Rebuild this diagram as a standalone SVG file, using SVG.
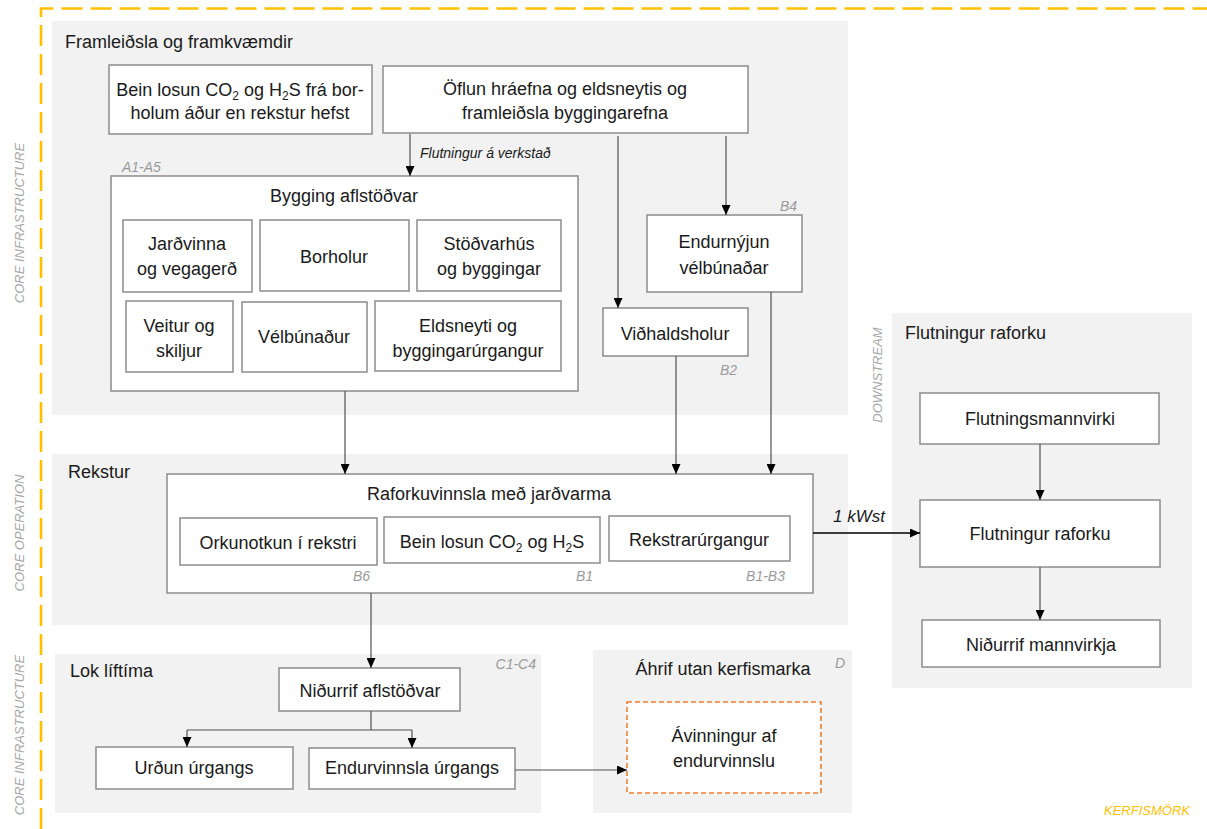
<svg xmlns="http://www.w3.org/2000/svg" width="1207" height="829" viewBox="0 0 1207 829">
<style>
.panel{fill:#F2F2F2;stroke:none}
.box{fill:#FFFFFF;stroke:#8C8C8C;stroke-width:1.5}
.dbox{fill:#FFFFFF;stroke:#ED7D31;stroke-width:1.6;stroke-dasharray:5 3}
.t{font-family:"Liberation Sans",Arial,sans-serif;font-size:18px;fill:#1A1A1A;text-anchor:middle}
.pt{font-family:"Liberation Sans",Arial,sans-serif;font-size:18px;fill:#1A1A1A}
.lab{font-family:"Liberation Sans",Arial,sans-serif;font-size:14px;font-style:italic;fill:#9A9A9A}
.side{font-family:"Liberation Sans",Arial,sans-serif;font-size:13px;font-style:italic;fill:#A6A6A6;text-anchor:middle}
.it{font-family:"Liberation Sans",Arial,sans-serif;font-style:italic;fill:#1A1A1A}
.c{fill:none;stroke:#505050;stroke-width:1.2}
.sub{font-size:12px}
</style>
<defs>
<marker id="ah" viewBox="0 0 10 9" refX="10" refY="4.5" markerWidth="10" markerHeight="9" markerUnits="userSpaceOnUse" orient="auto">
<path d="M0,0 L10,4.5 L0,9 Z" fill="#000000"/>
</marker>
</defs>

<g id="border">
<path d="M41,829 V8.5 H1207" fill="none" stroke="#FFC000" stroke-width="2.6" stroke-dasharray="21 8"/>
<text x="1190" y="815" font-family="Liberation Sans,Arial,sans-serif" font-size="13" font-style="italic" fill="#FFC000" text-anchor="end">KERFISMÖRK</text>
</g>

<g id="side-labels">
<text class="side" transform="translate(24,223) rotate(-90)">CORE INFRASTRUCTURE</text>
<text class="side" transform="translate(24,533) rotate(-90)">CORE OPERATION</text>
<text class="side" transform="translate(24,735) rotate(-90)">CORE INFRASTRUCTURE</text>
<text class="side" transform="translate(882,375) rotate(-90)">DOWNSTREAM</text>
</g>

<g id="panel-framleidsla">
<rect class="panel" x="52" y="21" width="796" height="394"/>
<text class="pt" x="65" y="48">Framleiðsla og framkvæmdir</text>
</g>
<g id="panel-rekstur">
<rect class="panel" x="52" y="454" width="796" height="171"/>
<text class="pt" x="68" y="478">Rekstur</text>
</g>
<g id="panel-flutningur">
<rect class="panel" x="892" y="313" width="300" height="375"/>
<text class="pt" x="905" y="339">Flutningur raforku</text>
</g>
<g id="panel-lok">
<rect class="panel" x="55" y="654" width="486" height="159"/>
<text class="pt" x="70" y="677">Lok líftíma</text>
<text class="lab" x="536" y="669" text-anchor="end">C1-C4</text>
</g>
<g id="panel-ahrif">
<rect class="panel" x="593" y="650" width="259" height="163"/>
<text class="t" x="723" y="675">Áhrif utan kerfismarka</text>
<text class="lab" x="845" y="668" text-anchor="end">D</text>
</g>

<g id="node-bein-losun-borholur">
<rect class="box" x="109" y="65" width="263" height="69"/>
<text class="t" x="240" y="96">Bein losun CO<tspan class="sub" dy="4">2</tspan><tspan dy="-4"> og H</tspan><tspan class="sub" dy="4">2</tspan><tspan dy="-4">S frá bor-</tspan></text>
<text class="t" x="240" y="119">holum áður en rekstur hefst</text>
</g>
<g id="node-oflun">
<rect class="box" x="383" y="66" width="365" height="67"/>
<text class="t" x="565" y="95">Öflun hráefna og eldsneytis og</text>
<text class="t" x="565" y="119">framleiðsla byggingarefna</text>
</g>

<g id="node-bygging">
<rect class="box" x="111" y="176" width="467" height="215"/>
<text class="t" x="344" y="202">Bygging aflstöðvar</text>
<text class="lab" x="122" y="172">A1-A5</text>
</g>
<g id="node-jardvinna">
<rect class="box" x="123" y="220" width="129" height="72"/>
<text class="t" x="187" y="250">Jarðvinna</text>
<text class="t" x="187" y="275">og vegagerð</text>
</g>
<g id="node-borholur">
<rect class="box" x="260" y="220" width="149" height="71"/>
<text class="t" x="334" y="263">Borholur</text>
</g>
<g id="node-stodvarhus">
<rect class="box" x="417" y="220" width="144" height="71"/>
<text class="t" x="489" y="250">Stöðvarhús</text>
<text class="t" x="489" y="275">og byggingar</text>
</g>
<g id="node-veitur">
<rect class="box" x="126" y="301" width="107" height="71"/>
<text class="t" x="179" y="332">Veitur og</text>
<text class="t" x="179" y="357">skiljur</text>
</g>
<g id="node-velbunadur">
<rect class="box" x="242" y="302" width="125" height="70"/>
<text class="t" x="304" y="343">Vélbúnaður</text>
</g>
<g id="node-eldsneyti">
<rect class="box" x="375" y="301" width="186" height="70"/>
<text class="t" x="468" y="332">Eldsneyti og</text>
<text class="t" x="468" y="357">byggingarúrgangur</text>
</g>

<g id="node-endurnyjun">
<rect class="box" x="647" y="215" width="155" height="77"/>
<text class="t" x="724" y="248">Endurnýjun</text>
<text class="t" x="724" y="274">vélbúnaðar</text>
<text class="lab" x="797" y="211" text-anchor="end">B4</text>
</g>
<g id="node-vidhaldsholur">
<rect class="box" x="603" y="308" width="145" height="48"/>
<text class="t" x="675" y="340">Viðhaldsholur</text>
<text class="lab" x="737" y="375" text-anchor="end">B2</text>
</g>

<g id="node-raforkuvinnsla">
<rect class="box" x="167" y="474" width="646" height="119"/>
<text class="t" x="489" y="500">Raforkuvinnsla með jarðvarma</text>
<text class="lab" x="370" y="581" text-anchor="end">B6</text>
<text class="lab" x="593" y="581" text-anchor="end">B1</text>
<text class="lab" x="785" y="581" text-anchor="end">B1-B3</text>
</g>
<g id="node-orkunotkun">
<rect class="box" x="180" y="518" width="197" height="47"/>
<text class="t" x="278" y="549">Orkunotkun í rekstri</text>
</g>
<g id="node-bein-losun">
<rect class="box" x="384" y="517" width="216" height="46"/>
<text class="t" x="492" y="548">Bein losun CO<tspan class="sub" dy="4">2</tspan><tspan dy="-4"> og H</tspan><tspan class="sub" dy="4">2</tspan><tspan dy="-4">S</tspan></text>
</g>
<g id="node-rekstrarurgangur">
<rect class="box" x="609" y="516" width="181" height="45"/>
<text class="t" x="699" y="546">Rekstrarúrgangur</text>
</g>

<g id="node-flutningsmannvirki">
<rect class="box" x="920" y="393" width="239" height="51"/>
<text class="t" x="1040" y="425">Flutningsmannvirki</text>
</g>
<g id="node-flutningur-raforku">
<rect class="box" x="920" y="500" width="240" height="67"/>
<text class="t" x="1040" y="540">Flutningur raforku</text>
</g>
<g id="node-nidurrif-mannvirkja">
<rect class="box" x="922" y="620" width="238" height="47"/>
<text class="t" x="1041" y="651">Niðurrif mannvirkja</text>
</g>

<g id="node-nidurrif-aflstodvar">
<rect class="box" x="279" y="668" width="181" height="43"/>
<text class="t" x="370" y="697">Niðurrif aflstöðvar</text>
</g>
<g id="node-urdun">
<rect class="box" x="96" y="747" width="197" height="42"/>
<text class="t" x="194" y="774">Urðun úrgangs</text>
</g>
<g id="node-endurvinnsla">
<rect class="box" x="309" y="748" width="206" height="41"/>
<text class="t" x="412" y="774">Endurvinnsla úrgangs</text>
</g>
<g id="node-avinningur">
<rect class="dbox" x="627" y="702" width="194" height="91"/>
<text class="t" x="724" y="742">Ávinningur af</text>
<text class="t" x="724" y="767">endurvinnslu</text>
</g>

<g id="connectors">
<path class="c" d="M410,134 V176" marker-end="url(#ah)"/>
<text class="it" x="420" y="158" font-size="14">Flutningur á verkstað</text>
<path class="c" d="M618,136 V308" marker-end="url(#ah)"/>
<path class="c" d="M726,136 V215" marker-end="url(#ah)"/>
<path class="c" d="M345,391 V474" marker-end="url(#ah)"/>
<path class="c" d="M676,356 V474" marker-end="url(#ah)"/>
<path class="c" d="M771,292 V474" marker-end="url(#ah)"/>
<path d="M813,533 H920" fill="none" stroke="#000000" stroke-width="1.6" marker-end="url(#ah)"/>
<text class="it" x="833" y="522" font-size="17">1 kWst</text>
<path class="c" d="M1040,444 V500" marker-end="url(#ah)"/>
<path class="c" d="M1040,567 V620" marker-end="url(#ah)"/>
<path class="c" d="M371,593 V668" marker-end="url(#ah)"/>
<path class="c" d="M371,711 V730 M187,730 H412"/>
<path class="c" d="M187,730 V747" marker-end="url(#ah)"/>
<path class="c" d="M412,730 V748" marker-end="url(#ah)"/>
<path class="c" d="M515,770 H627" marker-end="url(#ah)"/>
</g>
</svg>
